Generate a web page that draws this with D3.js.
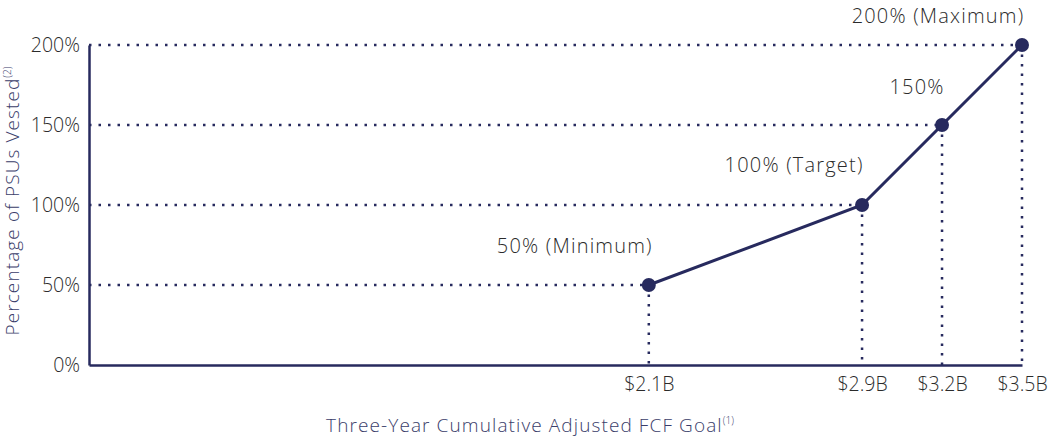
<!DOCTYPE html>
<html><head><meta charset="utf-8">
<script src="https://cdn.jsdelivr.net/npm/d3@7"></script>
<style>
html,body{margin:0;padding:0;background:#fff;}
text{font-family:"Open Sans",sans-serif;}
</style></head>
<body>
<svg id="chart" width="1054" height="440"></svg>
<script>
const goals = [2.1, 2.9, 3.2, 3.5];
const goalLabels = ["$2.1B", "$2.9B", "$3.2B", "$3.5B"];
const vested = [50, 100, 150, 200];
const pointLabels = ["50% (Minimum)", "100% (Target)", "150%", "200% (Maximum)"];
const yTicks = [0, 50, 100, 150, 200];

const navy = "#272a5e";
const txt = "#2b2b2b";
const svg = d3.select("#chart");
const x = d3.scaleLinear().domain([0, 3.5]).range([89, 1022]);
const y = d3.scaleLinear().domain([0, 200]).range([365, 45]);

const data = goals.map((g, i) => ({g, v: vested[i], gl: goalLabels[i], pl: pointLabels[i]}));

// dotted guides
const guides = svg.append("g");
data.forEach(d => {
  guides.append("line").attr("x1", x(0)).attr("x2", x(d.g)).attr("y1", y(d.v)).attr("y2", y(d.v))
    .attr("stroke", navy).attr("stroke-width", 2.5).attr("stroke-dasharray", "2.5,7");
  guides.append("line").attr("x1", x(d.g)).attr("x2", x(d.g)).attr("y1", y(d.v)).attr("y2", y(0))
    .attr("stroke", navy).attr("stroke-width", 2.5).attr("stroke-dasharray", "2.5,7");
});

// axes
const yAxis = d3.axisLeft(y).tickValues(yTicks).tickFormat(d => d + "%").tickSize(0).tickPadding(9);
const gy = svg.append("g").attr("transform", `translate(${x(0)},0)`).call(yAxis);
gy.select(".domain").attr("stroke", navy).attr("stroke-width", 2.5);
gy.selectAll("text").attr("font-size", 19.5).attr("fill", txt).attr("font-weight", 300).attr("font-family", "'Open Sans',sans-serif");

const xAxis = d3.axisBottom(x).tickValues(goals).tickFormat((d, i) => goalLabels[i]).tickSize(0).tickPadding(12);
const gx = svg.append("g").attr("transform", `translate(0,${y(0)})`).call(xAxis);
gx.select(".domain").attr("stroke", navy).attr("stroke-width", 2.5);
gx.selectAll("text").attr("font-size", 19.5).attr("fill", txt).attr("font-weight", 300).attr("font-family", "'Open Sans',sans-serif");

// line
svg.append("path").datum(data)
  .attr("d", d3.line().x(d => x(d.g)).y(d => y(d.v)))
  .attr("fill", "none").attr("stroke", navy).attr("stroke-width", 3);

svg.selectAll("circle.pt").data(data).join("circle")
  .attr("cx", d => x(d.g)).attr("cy", d => y(d.v)).attr("r", 7).attr("fill", navy);

// point labels
const labelOffsets = [[-74, -32], [-68, -33], [-25, -31], [-84, -22]];
svg.selectAll("text.pl").data(data).join("text")
  .attr("x", (d, i) => x(d.g) + labelOffsets[i][0]).attr("y", (d, i) => y(d.v) + labelOffsets[i][1])
  .attr("text-anchor", "middle").attr("font-size", 20).attr("letter-spacing", 1.2)
  .attr("fill", txt).attr("font-weight", 300)
  .text(d => d.pl);

// axis titles
const xt = svg.append("text").attr("x", 530).attr("y", 432).attr("text-anchor", "middle")
  .attr("font-size", 19).attr("letter-spacing", 1.1).attr("fill", "#3a3d6a").attr("font-weight", 300);
xt.append("tspan").text("Three-Year Cumulative Adjusted FCF Goal");
xt.append("tspan").attr("font-size", 10).attr("letter-spacing", 0).attr("dy", -8).text("(1)");

const yt = svg.append("text").attr("transform", "translate(19,201) rotate(-90)").attr("text-anchor", "middle")
  .attr("font-size", 19).attr("letter-spacing", 1.1).attr("fill", "#3a3d6a").attr("font-weight", 300);
yt.append("tspan").text("Percentage of PSUs Vested");
yt.append("tspan").attr("font-size", 10).attr("letter-spacing", 0).attr("dy", -8).text("(2)");
</script>
</body></html>
